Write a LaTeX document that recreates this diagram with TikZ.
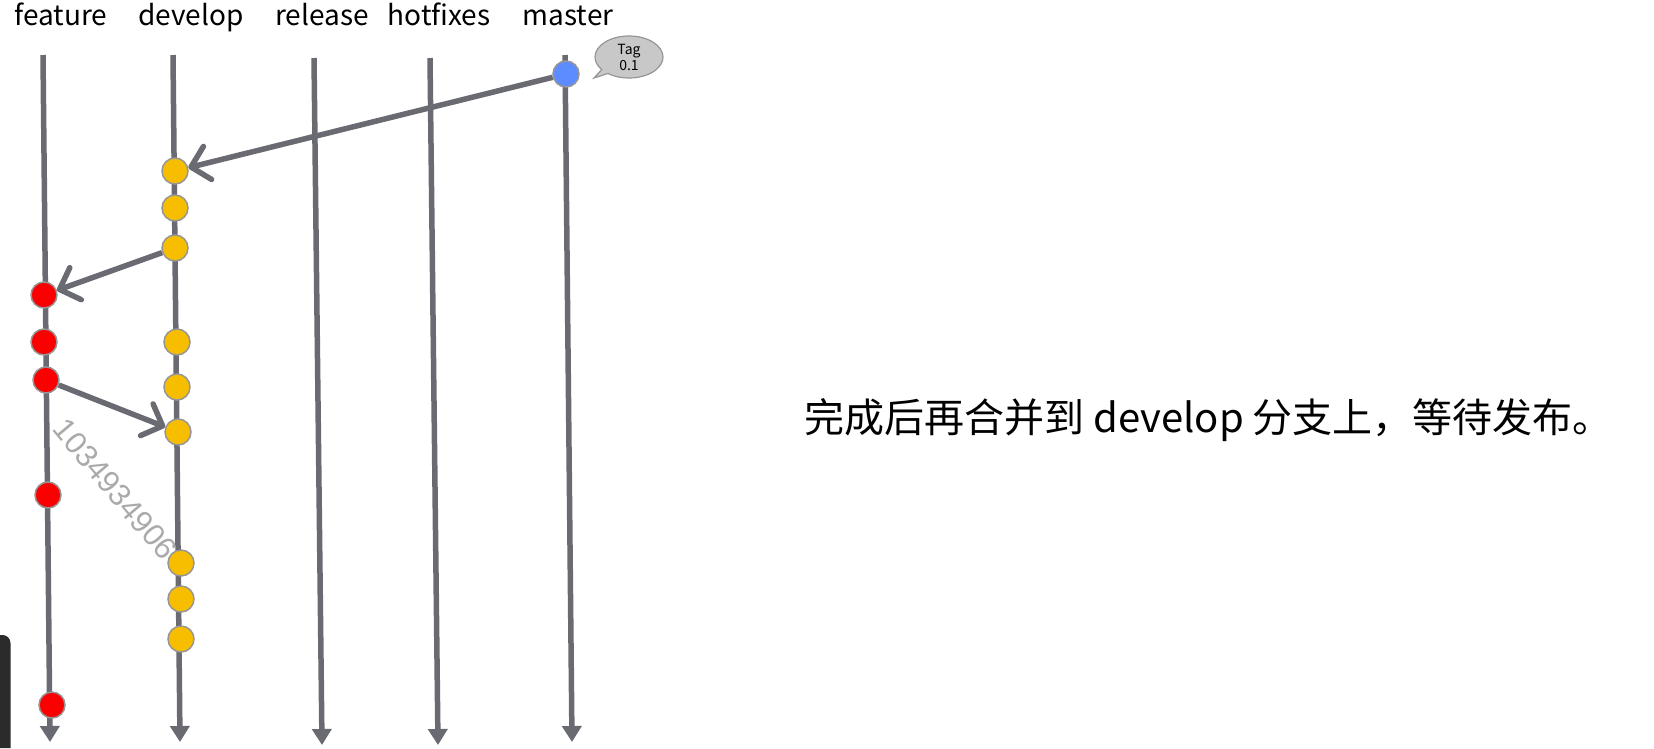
\documentclass[tikz,border=0pt]{standalone}
\usepackage{fontspec}
\setmainfont{Noto Sans CJK SC}
\newfontfamily\wmfont{Liberation Sans}
\usetikzlibrary{arrows.meta, shapes.callouts}

\definecolor{branchgray}{RGB}{106,107,114}
\definecolor{ringgray}{RGB}{150,150,150}
\definecolor{featred}{RGB}{250,0,0}
\definecolor{devyellow}{RGB}{247,190,0}
\definecolor{masterblue}{RGB}{92,140,255}
\definecolor{taggray}{RGB}{200,200,200}
\definecolor{wmgray}{RGB}{170,170,170}
\definecolor{barblack}{RGB}{43,43,43}

\begin{document}
\begin{tikzpicture}[x=1pt, y=-1pt,
    branch/.style={draw=branchgray, line width=5.5pt, -{Triangle[width=19pt,length=16pt]}},
    merge/.style={draw=branchgray, line width=5.5pt, -{Straight Barb[length=17pt,width=34pt,round]}},
    commit/.style={circle, draw=ringgray, line width=1.5pt, minimum size=26pt, inner sep=0pt},
    feat/.style={commit, fill=featred},
    dev/.style={commit, fill=devyellow},
    mast/.style={commit, fill=masterblue},
    label/.style={anchor=base, font=\fontsize{28}{28}\selectfont},
    tag/.style={ellipse callout, callout absolute pointer={(594,78)}, fill=taggray, draw=ringgray,
      line width=1.2pt, minimum width=68pt, minimum height=42pt, inner sep=0pt, align=center,
      font=\fontsize{14}{16}\selectfont}]
  \useasboundingbox (0,0) rectangle (1654,748);

  % branch names
  \node[label] (lfeature) at (61,25) {feature};
  \node[label] (ldevelop) at (191,25) {develop};
  \node[label] (lrelease) at (322,25) {release};
  \node[label] (lhotfixes) at (439,25) {hotfixes};
  \node[label] (lmaster) at (568,25) {master};

  % branch lines
  \coordinate (ftop) at (43,55);   \coordinate (fend) at (50,742);
  \coordinate (dtop) at (173,55);  \coordinate (dend) at (180,742);
  \coordinate (rtop) at (314,58);  \coordinate (rend) at (322,745);
  \coordinate (htop) at (430,58);  \coordinate (hend) at (438,745);
  \coordinate (mtop) at (565,55);  \coordinate (mend) at (572,742);
  \foreach \b in {f,d,r,h,m}
    \draw[branch] (\b top) -- (\b end);

  % commits
  \node[mast] (m1) at (566,74) {};
  \node[tag] (tag) at (629,57) {Tag\\0.1};

  \node[dev] (d1) at (175,171) {};
  \node[dev] (d2) at (175,208) {};
  \node[dev] (d3) at (175,248) {};
  \node[dev] (d4) at (177,342) {};
  \node[dev] (d5) at (177,387) {};
  \node[dev] (d6) at (178,432) {};
  \node[dev] (d7) at (181,563) {};
  \node[dev] (d8) at (181,599) {};
  \node[dev] (d9) at (181,639) {};

  \node[feat] (f1) at (44,295) {};
  \node[feat] (f2) at (44,342) {};
  \node[feat] (f3) at (46,380) {};
  \node[feat] (f4) at (48,495) {};
  \node[feat] (f5) at (52,705) {};

  % merges
  \path[merge] (m1) edge (d1)
    (d3) edge (f1)
    (f3) edge (d6);

  \node[rotate=-50, text=wmgray, font=\wmfont\fontsize{31}{31}\selectfont] (wm) at (115,489) {1034934906};

  \node[anchor=west, font=\fontsize{40}{40}\selectfont] (note) at (801,420)
    {完成后再合并到 develop 分支上，等待发布。};

  \fill[barblack] (0,748) -- (0,635) -- (2.5,635)
    arc[start angle=90, end angle=0, radius=8pt] -- (10.5,748) -- cycle;
\end{tikzpicture}
\end{document}
